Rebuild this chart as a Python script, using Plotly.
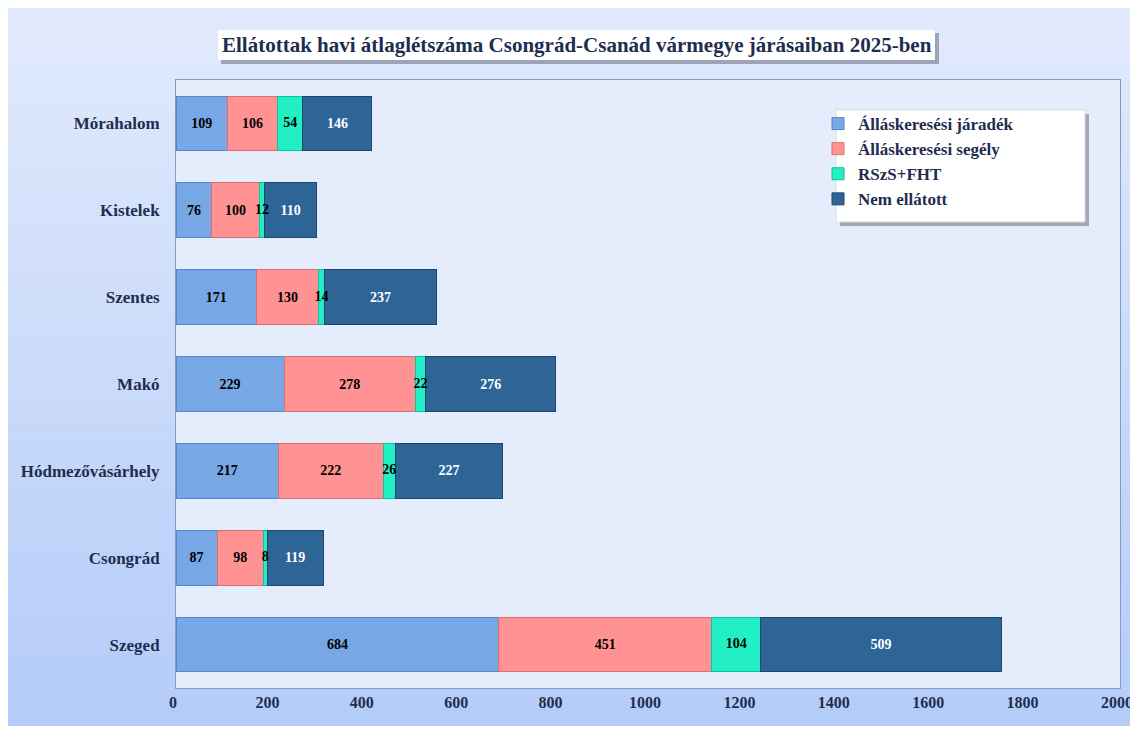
import plotly.graph_objects as go

# járások (bottom to top as drawn)
districts = ['Szeged', 'Csongrád', 'Hódmezővásárhely', 'Makó', 'Szentes', 'Kistelek', 'Mórahalom']
jaradek = [684, 87, 217, 229, 171, 76, 109]
segely = [451, 98, 222, 278, 130, 100, 106]
rszs_fht = [104, 8, 26, 22, 14, 12, 54]
nem_ellatott = [509, 119, 227, 276, 237, 110, 146]
x_ticks = [0, 200, 400, 600, 800, 1000, 1200, 1400, 1600, 1800, 2000]

series = [
    ('Álláskeresési járadék', jaradek, '#78a7e6', '#5585c8', 'black'),
    ('Álláskeresési segély', segely, '#ff9292', '#d87070', 'black'),
    ('RSzS+FHT', rszs_fht, '#22f0c4', '#12c098', 'black'),
    ('Nem ellátott', nem_ellatott, '#2d6597', '#1d4670', 'white'),
]

font = 'Liberation Serif'
navy = '#1f2d50'

fig = go.Figure()
for name, vals, color, edge, txt in series:
    small = name == 'RSzS+FHT'
    fig.add_trace(go.Bar(
        y=districts, x=vals, name=name, orientation='h', legendgroup=name,
        marker=dict(color=color, line=dict(color=edge, width=1)),
        text=None if small else vals, textposition='inside', insidetextanchor='middle',
        textfont=dict(family=font, size=14, color=txt, weight='bold'),
        constraintext='none',
    ))

# labels of the thin RSzS+FHT segments sit on top of everything
mid = [a + b + c / 2 for a, b, c in zip(jaradek, segely, rszs_fht)]
fig.add_trace(go.Scatter(
    y=districts, x=mid, mode='text', text=rszs_fht, showlegend=False,
    textfont=dict(family=font, size=14, color='black', weight='bold'),
    cliponaxis=False, hoverinfo='skip',
))

# background gradient, light at top, deeper blue at bottom
n = 40
top_c = (225, 234, 252)
bot_c = (180, 204, 248)
y0, y1 = -38 / 608, 1 + 72 / 608
for i in range(n):
    t = i / (n - 1)
    c = tuple(round(bot_c[k] + (top_c[k] - bot_c[k]) * t) for k in range(3))
    fig.add_shape(type='rect', xref='paper', yref='paper', layer='below',
                  x0=-168 / 944, x1=1 + 15 / 944,
                  y0=y0 + (y1 - y0) * i / n, y1=y0 + (y1 - y0) * (i + 1) / n + 0.001,
                  line=dict(width=0), fillcolor='rgb(%d,%d,%d)' % c)
# plot area fill
fig.add_shape(type='rect', xref='paper', yref='paper', layer='below',
              x0=0, x1=1, y0=0, y1=1, line=dict(width=0), fillcolor='#e5edfc')

# title box with shadow
fig.add_shape(type='rect', xref='paper', yref='paper', layer='below',
              x0=(221 - 176) / 944, x1=(939 - 176) / 944,
              y0=(688 - 64) / 608, y1=(688 - 33) / 608,
              line=dict(width=0), fillcolor='rgba(80,80,100,0.45)')
fig.add_shape(type='rect', xref='paper', yref='paper', layer='below',
              x0=(218 - 176) / 944, x1=(935 - 176) / 944,
              y0=(688 - 60) / 608, y1=(688 - 30) / 608,
              line=dict(width=0), fillcolor='white')
fig.add_annotation(
    text='<b>Ellátottak havi átlaglétszáma Csongrád-Csanád vármegye járásaiban 2025-ben</b>',
    xref='paper', yref='paper', x=(577 - 176) / 944, y=(688 - 45) / 608,
    xanchor='center', yanchor='middle',
    showarrow=False, font=dict(family=font, size=21, color=navy))

# legend box with shadow
fig.add_shape(type='rect', xref='paper', yref='paper',
              x0=(840 - 176) / 944, x1=(1089 - 176) / 944,
              y0=(688 - 226) / 608, y1=(688 - 114) / 608,
              line=dict(width=0), fillcolor='rgba(80,80,100,0.45)')
fig.add_shape(type='rect', xref='paper', yref='paper',
              x0=(836 - 176) / 944, x1=(1085 - 176) / 944,
              y0=(688 - 222) / 608, y1=(688 - 110) / 608,
              line=dict(color='#dcdcdc', width=1), fillcolor='white')

fig.update_layout(
    width=1130, height=718,
    margin=dict(l=168, r=18, t=72, b=38),
    paper_bgcolor='white', plot_bgcolor='rgba(0,0,0,0)',
    barmode='stack', bargap=0.37,
    uniformtext=dict(mode='show', minsize=14),
    font=dict(family=font, color=navy),
    legend=dict(
        x=(818 - 176) / 944, y=(688 - 106) / 608, xanchor='left', yanchor='top',
        bgcolor='rgba(0,0,0,0)', borderwidth=0,
        traceorder='normal', itemwidth=30, tracegroupgap=13,
        font=dict(family=font, size=17, color=navy, weight='bold'),
    ),
    showlegend=True,
)
fig.update_xaxes(range=[0, 2000], tickvals=x_ticks, showgrid=False, zeroline=False,
                 showline=True, linecolor='#7f9cc8', mirror=True, ticks='',
                 ticklabeloverflow='allow', automargin=False, ticklabelshift=-3,
                 tickfont=dict(family=font, size=16, color=navy, weight='bold'))
fig.update_yaxes(showgrid=False, showline=True, linecolor='#7f9cc8', mirror=True,
                 ticks='', ticklabelstandoff=12, automargin=False,
                 tickfont=dict(family=font, size=17, color=navy, weight='bold'))

fig.write_html('out.html')
